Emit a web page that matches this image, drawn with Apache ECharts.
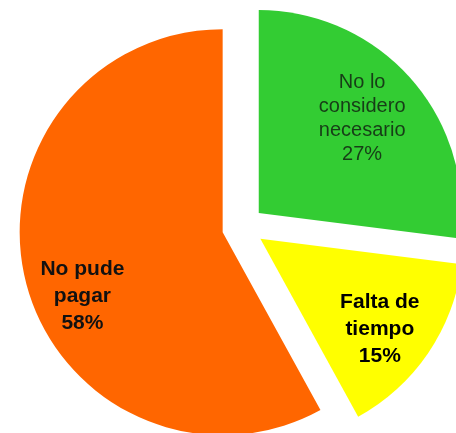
<!DOCTYPE html>
<html>
<head>
<meta charset="utf-8">
<script src="https://cdn.jsdelivr.net/npm/echarts@6/dist/echarts.min.js"></script>
<style>
  html, body { margin: 0; padding: 0; background: #fff; }
  #chart { width: 456px; height: 433px; }
</style>
</head>
<body>
<div id="chart"></div>
<script>
// datos del gráfico
const categories = ['No lo\nconsidero\nnecesario', 'Falta de\ntiempo', 'No pude\npagar']
const values = [27, 15, 58]
const colors = ['#33CC33', '#FFFF00', '#FF6600']
const labelColors = ['#173d17', '#000000', '#111111']
const labelWeights = ['normal', 'bold', 'bold']
const labelShifts = [[25, -26], [33, 32], [-39, 38]]

const chart = echarts.init(document.getElementById('chart'))

const option = {
  animation: false,
  series: [
    {
      type: 'pie',
      center: [243, 227],
      radius: [0, 203],
      startAngle: 90,
      clockwise: true,
      selectedMode: 'multiple',
      selectedOffset: 21,
      emphasis: { disabled: true },
      label: {
        position: 'inside',
        fontFamily: 'Liberation Sans, Arial, sans-serif',
        align: 'center'
      },
      labelLine: { show: false },
      // mover etiquetas hacia fuera
      labelLayout: (params) => ({
        dx: labelShifts[params.dataIndex][0],
        dy: labelShifts[params.dataIndex][1]
      }),
      data: values.map((v, i) => ({
        name: categories[i],
        value: v,
        selected: true,
        itemStyle: { color: colors[i], borderWidth: 0 },
        label: {
          formatter: '{b}\n{c}%',
          color: labelColors[i],
          fontWeight: labelWeights[i],
          fontSize: i === 0 ? 20 : 21,
          lineHeight: i === 0 ? 24 : 27
        }
      }))
    }
  ]
}

chart.setOption(option)
</script>
</body>
</html>
